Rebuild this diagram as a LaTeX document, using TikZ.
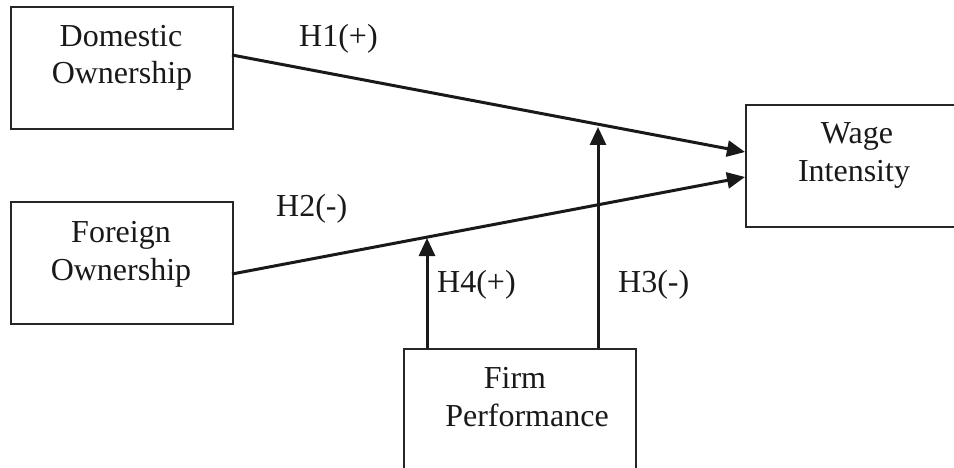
\documentclass[tikz,border=0pt]{standalone}
\usepackage{fontspec}
\setmainfont{Liberation Serif}
\usetikzlibrary{arrows.meta}
\begin{document}
\begin{tikzpicture}[x=1pt,y=-1pt,
  box/.style={draw=black!85,line width=2pt,rectangle,inner sep=0pt,anchor=north west},
  lbl/.style={inner sep=0pt,font=\fontsize{32}{36}\selectfont,text=black!90},
  conn/.style={line width=3pt,draw=black!90,-{Triangle[length=18pt,width=16pt]}}]
\useasboundingbox (0,0) rectangle (954,468);
\fill[white] (0,0) rectangle (954,468);
% boxes
\node[box,minimum width=222pt,minimum height=122pt] (dom) at (10,6) {};
\node[box,minimum width=222pt,minimum height=122pt] (for) at (10,201) {};
\node[box,minimum width=225pt,minimum height=122pt] (wage) at (745,104) {};
\node[box,minimum width=232pt,minimum height=140pt] (firm) at (403,348) {};
% box texts
\node[lbl,anchor=base] (dom1) at (121,47) {Domestic};
\node[lbl,anchor=base] (dom2) at (122,84) {Ownership};
\node[lbl,anchor=base] (for1) at (121,242) {Foreign};
\node[lbl,anchor=base] (for2) at (121,280) {Ownership};
\node[lbl,anchor=base] (wage1) at (857,144) {Wage};
\node[lbl,anchor=base] (wage2) at (854,182) {Intensity};
\node[lbl,anchor=base] (firm1) at (515,388) {Firm};
\node[lbl,anchor=base] (firm2) at (527,426) {Performance};
% connector end points
\coordinate (dA) at (232,55);
\coordinate (wA) at (745,152);
\coordinate (fA) at (232,274);
\coordinate (wB) at (745,177);
\coordinate (fL) at (427,348);
\coordinate (fR) at (598,348);
\coordinate (m4) at (427,238);
\coordinate (m3) at (598,127);
% connectors
\draw[conn] (dA) -- (wA);
\draw[conn] (fA) -- (wB);
\draw[conn] (fL) -- (m4);
\draw[conn] (fR) -- (m3);
% hypothesis labels
\node[lbl,anchor=base west] (h1) at (299,47) {H1(+)};
\node[lbl,anchor=base west] (h2) at (276,217) {H2(-)};
\node[lbl,anchor=base west] (h4) at (437,292) {H4(+)};
\node[lbl,anchor=base west] (h3) at (618,292) {H3(-)};
\end{tikzpicture}
\end{document}
